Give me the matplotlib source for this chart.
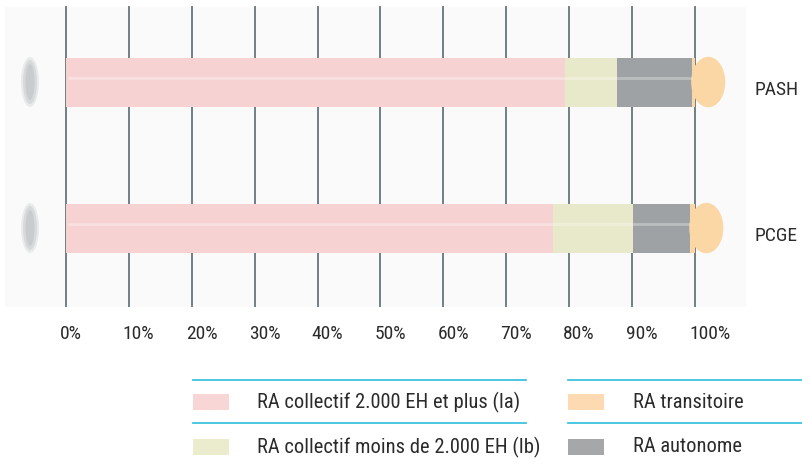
import matplotlib.pyplot as plt
import matplotlib.transforms as mtransforms
from matplotlib import font_manager
from matplotlib.patches import Ellipse, Rectangle
from matplotlib.lines import Line2D
import numpy as np

# pick a narrow face if one is installed
names = {f.name for f in font_manager.fontManager.ttflist}
stretches = {(f.name, f.stretch) for f in font_manager.fontManager.ttflist}
font_stretch = 'normal'
if 'Liberation Sans Narrow' in names:
    plt.rcParams['font.family'] = ['Liberation Sans Narrow', 'DejaVu Sans']
elif 'Roboto Condensed' in names:
    plt.rcParams['font.family'] = ['Roboto Condensed', 'DejaVu Sans']
elif any(n == 'DejaVu Sans' and s == 'condensed' for n, s in stretches):
    plt.rcParams['font.family'] = ['DejaVu Sans']
    font_stretch = 'condensed'
else:
    plt.rcParams['font.family'] = ['DejaVu Sans']
plt.rcParams['font.stretch'] = font_stretch

# data (share of population, %)
plans = ['PCGE', 'PASH']
series = ['RA collectif 2.000 EH et plus (Ia)', 'RA collectif moins de 2.000 EH (Ib)',
          'RA autonome', 'RA transitoire']
ra_ia = [77.4, 79.3]
ra_ib = [12.7, 8.3]
ra_autonome = [9.1, 11.9]
ra_transitoire = [0.8, 0.5]
tick_values = [0, 10, 20, 30, 40, 50, 60, 70, 80, 90, 100]
tick_labels = ['0%', '10%', '20%', '30%', '40%', '50%', '60%', '70%', '80%', '90%', '100%']

colors = {
    series[0]: '#f6d3d2',
    series[1]: '#e8e8cb',
    series[2]: '#9fa2a4',
    series[3]: '#fcd7a6',
}
legend_colors = ['#f9d6d6', '#ebebcd', '#fddab1', '#a5a7a9']
text_color = '#2b2b2b'

W, H = 802, 466
fig = plt.figure(figsize=(W / 100, H / 100), dpi=100)


def fx(px):
    return px / W


def fy(py):
    return 1 - py / H


# faint panel background
fig.add_artist(Rectangle((fx(5), fy(306)), fx(740), 299 / H, color='#fafafa', zorder=0,
                         transform=fig.transFigure))

ax = fig.add_axes([fx(66), fy(306), 629 / W, 299 / H])
ax.set_facecolor('none')
ax.set_xlim(0, 100)
ax.set_ylim(-0.534, 1.514)
for s in ax.spines.values():
    s.set_visible(False)

# vertical grid lines
for t in tick_values:
    ax.axvline(t, color='#737e84', lw=1.4, zorder=1, clip_on=False)

y = np.arange(len(plans))
bar_h = 0.336
stack = [ra_ia, ra_ib, ra_autonome, ra_transitoire]
left = np.zeros(len(plans))
for name, vals in zip(series, stack):
    ax.barh(y, vals, left=left, height=bar_h, color=colors[name], zorder=3)
    left = left + np.array(vals)

# rounded end cap in the last colour
start_last = left - np.array(ra_transitoire)
for yi, st in zip(y, start_last):
    ax.add_patch(Ellipse((st + 2.6, yi), 5.2, bar_h, color=colors[series[3]], zorder=4,
                         clip_on=False))
    # glossy highlight
    ax.plot([0.3, st], [yi + 0.03, yi + 0.03], color='white', alpha=0.3, lw=2,
            zorder=5, solid_capstyle='butt')

# x tick labels
ax.set_xticks(tick_values, tick_labels)
ax.tick_params(axis='x', length=0, pad=14, labelsize=14, colors=text_color)
off = mtransforms.ScaledTranslation(-6 / 100, 0, fig.dpi_scale_trans)
for lbl in ax.get_xticklabels():
    lbl.set_horizontalalignment('left')
    lbl.set_transform(lbl.get_transform() + off)

# plan labels on the right
ax.yaxis.tick_right()
ax.set_yticks(y, plans)
ax.tick_params(axis='y', length=0, pad=43, labelsize=14, colors=text_color)
off_y = mtransforms.ScaledTranslation(0, -6 / 100, fig.dpi_scale_trans)
for lbl in ax.get_yticklabels():
    lbl.set_transform(lbl.get_transform() + off_y)

# blurred marks on the left
for py in (82, 228):
    for w, h, a in [(18, 50, 0.25), (14, 44, 0.35), (9, 36, 0.45)]:
        fig.add_artist(Ellipse((fx(30), fy(py)), w / W, h / H, color='#b9bcbe', alpha=a,
                               lw=0, transform=fig.transFigure))

# custom legend
cyan = '#3fc3df'
cols = [
    (193, 526, 193, 257, [series[0], series[1]], [legend_colors[0], legend_colors[1]]),
    (568, 802, 568, 633, [series[3], series[2]], [legend_colors[2], legend_colors[3]]),
]
for x0, x1, sx, tx, names_, cs in cols:
    for ly in (380, 423):
        fig.add_artist(Line2D([fx(x0), fx(x1)], [fy(ly), fy(ly)], color=cyan, lw=1.3,
                              transform=fig.transFigure))
    for cy, name, c in zip((402, 447), names_, cs):
        fig.add_artist(Rectangle((fx(sx), fy(cy + 8)), 36 / W, 16 / H, color=c, lw=0,
                                 transform=fig.transFigure))
        fig.text(fx(tx), fy(cy), name, fontsize=14.8, color=text_color, va='center',
                 ha='left')

fig.savefig('out.png', dpi=100)
